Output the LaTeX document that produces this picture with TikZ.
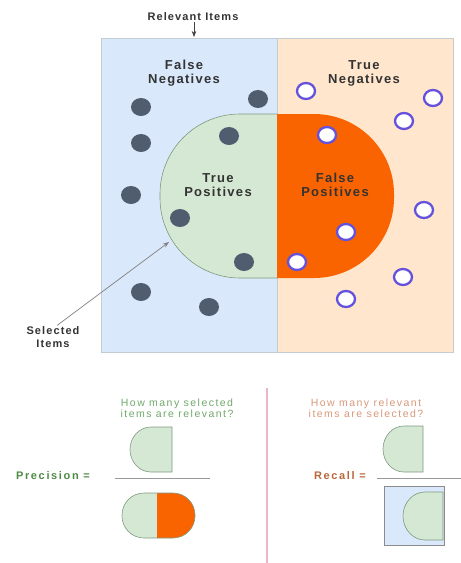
\documentclass[tikz,border=0pt]{standalone}
\usepackage{fontspec}
\setmainfont{Liberation Sans}
\newfontfamily\diagfont{Liberation Sans}[LetterSpace=10]
\newfontfamily\widefont{Liberation Sans}[LetterSpace=14]
\definecolor{relblue}{HTML}{DAE8FC}
\definecolor{negpeach}{HTML}{FFE6CC}
\definecolor{tpgreen}{HTML}{D5E8D4}
\definecolor{tpedge}{HTML}{7F9A80}
\definecolor{fporange}{HTML}{FA6400}
\definecolor{dotslate}{HTML}{505D6E}
\definecolor{ringviolet}{HTML}{6452DC}
\definecolor{boxgray}{HTML}{C3CBD3}
\definecolor{precgreen}{HTML}{4E8A44}
\definecolor{askgreen}{HTML}{6FA86A}
\definecolor{recbrown}{HTML}{B8663A}
\definecolor{askbrown}{HTML}{D8977A}
\definecolor{splitpink}{HTML}{EBB7C4}
\usetikzlibrary{arrows.meta, positioning, calc}

\begin{document}
\begin{tikzpicture}[x=1pt, y=-1pt, >={Stealth},
  regionlbl/.style={font=\diagfont\bfseries\fontsize{13}{14}\selectfont, text=black!80, align=center, inner sep=1pt},
  pointer/.style={font=\diagfont\bfseries\fontsize{11}{13}\selectfont, text=black!80, align=center, inner sep=1pt},
  asklbl/.style={font=\widefont\fontsize{10.5}{10.5}\selectfont, align=center, inner sep=1pt},
  formula/.style={font=\diagfont\bfseries\addfontfeature{LetterSpace=15}\fontsize{11}{13}\selectfont, inner sep=1pt},
  fnitem/.style={fill=dotslate},
  tnitem/.style={draw=ringviolet, line width=2.3pt, fill=white},
  halfsel/.style={fill=tpgreen, draw=tpedge, line width=0.6pt},
  fracbar/.style={draw=black!40, line width=0.8pt}]
\useasboundingbox (0,0) rectangle (461,563);

% relevant / non-relevant halves
\fill[relblue] (101,38) rectangle (277,352);
\fill[negpeach] (277,38) rectangle (453,352);
\draw[boxgray, line width=0.6pt] (101,38) rectangle (453,352);
\draw[boxgray, line width=0.6pt] (277,38) -- (277,352);

% selected items
\begin{scope}
\clip (0,0) rectangle (277,563);
\filldraw[halfsel, rounded corners=80pt] (160,114) rectangle (394,278);
\end{scope}
\begin{scope}
\clip (277,0) rectangle (461,563);
\fill[fporange, rounded corners=80pt] (160,114) rectangle (394,278);
\end{scope}

% region labels
\node[regionlbl] (fnlbl) at (184,73) {False\\Negatives};
\node[regionlbl] (tnlbl) at (364,73) {True\\Negatives};
\node[regionlbl] (tplbl) at (218,185) {True\\Positives};
\node[regionlbl] (fplbl) at (335,185) {False\\Positives};

% items
\foreach \px/\py in {141/107, 258/99, 141/143, 229/136, 131/195, 180/218, 244/262, 141/292, 209/307}
  \fill[fnitem] (\px,\py) ellipse (10 and 9);
\foreach \px/\py in {306/91, 433/98, 404/121, 327/135, 424/210, 346/232, 297/262, 403/277, 346/299}
  \filldraw[tnitem] (\px,\py) ellipse (9 and 8);

% pointers
\node[pointer] (rel) at (193,17) {Relevant Items};
\coordinate (relTip) at (194,37);
\draw[->, black!75, line width=0.7pt] (rel.south -| relTip) -- (relTip);
\node[pointer] (sel) at (53,337) {Selected\\Items};
\coordinate (selTip) at (169,242);
\draw[->, black!50, line width=0.7pt] (sel.70) -- (selTip);

% divider
\draw[splitpink, line width=2.2pt] (267,388) -- (267,563);

% precision
\node[asklbl, text=askgreen] (askprec) at (177,408) {How many selected\\items are relevant?};
\filldraw[halfsel] (172,427) -- (151,427) arc[start angle=90, end angle=270, x radius=21pt, y radius=22.5pt] -- (172,472) -- cycle;
\draw[fracbar] (115,478) -- (210,478);
\node[formula, text=precgreen] (prec) at (53,476) {Precision =};
\begin{scope}
\clip (0,480) rectangle (157,563);
\filldraw[halfsel, rounded corners=22pt] (122,493) rectangle (195,538);
\end{scope}
\begin{scope}
\clip (157,480) rectangle (267,563);
\filldraw[fill=fporange, draw=tpedge, line width=0.6pt, rounded corners=22pt] (122,493) rectangle (195,538);
\end{scope}

% recall
\node[asklbl, text=askbrown] (askrec) at (366,408) {How many relevant\\items are selected?};
\filldraw[halfsel] (423,426) -- (404,426) arc[start angle=90, end angle=270, x radius=21pt, y radius=23pt] -- (423,472) -- cycle;
\draw[fracbar] (377,478) -- (461,478);
\node[formula, text=recbrown] (rec) at (340,476) {Recall =};
\filldraw[fill=relblue, draw=black!45, line width=0.6pt] (384,486) rectangle (444,545);
\filldraw[halfsel] (443,492) -- (425,492) arc[start angle=90, end angle=270, x radius=22pt, y radius=24pt] -- (443,540) -- cycle;
\end{tikzpicture}
\end{document}
